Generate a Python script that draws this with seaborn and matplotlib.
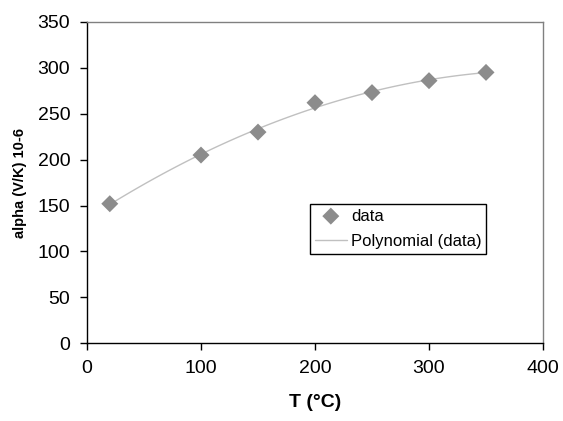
import matplotlib
matplotlib.use("Agg")
import matplotlib.pyplot as plt
import seaborn as sns
import pandas as pd

T = [20, 100, 150, 200, 250, 300, 350]
alpha = [152, 205, 230, 262, 273, 286, 295]
xticks = [0, 100, 200, 300, 400]
yticks = [0, 50, 100, 150, 200, 250, 300, 350]

sns.set_theme(style="white")
plt.rcParams['font.family'] = ['Liberation Sans', 'DejaVu Sans']
plt.rcParams['text.color'] = 'black'
plt.rcParams['axes.labelcolor'] = 'black'
plt.rcParams['xtick.color'] = 'black'
plt.rcParams['ytick.color'] = 'black'

df = pd.DataFrame({"T": T, "alpha": alpha})

fig = plt.figure(figsize=(5.63, 4.21), dpi=100)
ax = fig.add_axes([0.1545, 0.1845, 0.81, 0.7635])

sns.regplot(data=df, x="T", y="alpha", order=2, ci=None, scatter=False,
            ax=ax, line_kws=dict(color="#c0c0c0", lw=1.0),
            label="Polynomial (data)")
sns.scatterplot(data=df, x="T", y="alpha", marker="D", s=75, color="#8c8c8c",
                edgecolor="none", ax=ax, label="data", zorder=3)

ax.set_xlim(0, 400)
ax.set_ylim(0, 350)
ax.set_xticks(xticks)
ax.set_yticks(yticks)
ax.tick_params(axis='both', direction='out', length=5, width=1, color='black',
               labelsize=14, left=True, bottom=True, pad=7)
for s in ['left', 'bottom']:
    ax.spines[s].set_color('black')
    ax.spines[s].set_linewidth(1)
for s in ['top', 'right']:
    ax.spines[s].set_color('#808080')
    ax.spines[s].set_linewidth(1)

ax.set_xlabel("T (°C)", fontsize=14, fontweight='bold', labelpad=12)
ax.set_ylabel("alpha (V/K) 10-6", fontsize=10.5, fontweight='bold', labelpad=8)

handles, labels = ax.get_legend_handles_labels()
order = [labels.index("data"), labels.index("Polynomial (data)")]
leg = ax.legend([handles[i] for i in order], [labels[i] for i in order],
                loc='upper left', bbox_to_anchor=(0.489, 0.435),
                fontsize=12, frameon=True, fancybox=False, framealpha=1,
                edgecolor='black', borderpad=0.3, handlelength=1.9,
                handletextpad=0.25, borderaxespad=0, labelspacing=0.6)
leg.get_frame().set_linewidth(1)

fig.savefig("out.png", dpi=100)
